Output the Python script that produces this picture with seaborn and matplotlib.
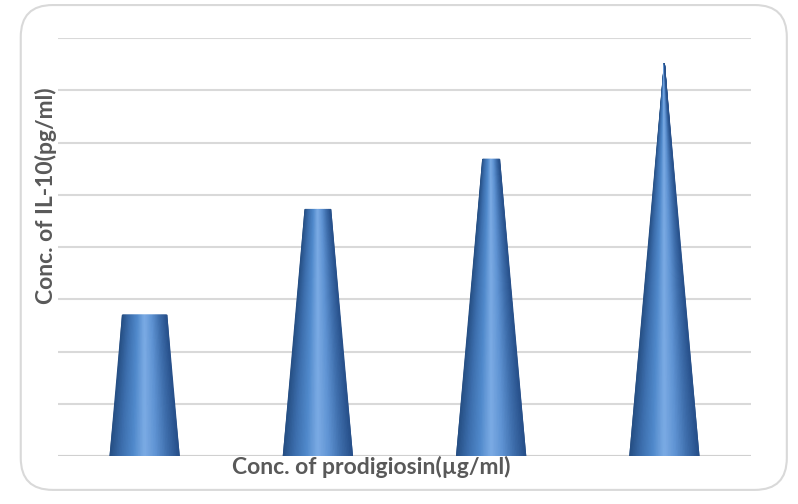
import numpy as np
import pandas as pd
import matplotlib
matplotlib.use("Agg")
import matplotlib.pyplot as plt
from matplotlib.colors import LinearSegmentedColormap
from matplotlib.collections import QuadMesh
from matplotlib.patches import FancyBboxPatch
import seaborn as sns

# data (no tick labels shown, units of one grid step = 10)
doses = ["dose 1", "dose 2", "dose 3", "dose 4"]
il10 = [27.0, 47.2, 56.8, 75.2]

df = pd.DataFrame({"dose": doses, "il10": il10})

sns.set_theme(style="white")
plt.rcParams["font.family"] = ["Lato", "DejaVu Sans"]

fig = plt.figure(figsize=(7.98, 5.04), dpi=100)
ax = fig.add_axes([0.0727, 0.0952, 0.8684, 0.8294])

sns.barplot(data=df, x="dose", y="il10", width=0.4, ax=ax, color="#4a7cbf")
ax.set_ylim(0, 80)
ax.set_yticks(np.arange(0, 81, 10))
ax.yaxis.grid(True, color="#d9d9d9", linewidth=1.5)
ax.set_axisbelow(True)
ax.tick_params(left=False, bottom=False, labelleft=False, labelbottom=False)
for s in ax.spines.values():
    s.set_visible(False)
ax.set_xlabel("")
ax.set_ylabel("")

# turn each bar into a shaded cone that reaches its apex at the largest value
cone_cmap = LinearSegmentedColormap.from_list(
    "cone", ["#264f84", "#3d6fae", "#5089cb", "#7cace5", "#5f93d3", "#3f6fad", "#27508a"])
peak = max(il10)
for p in list(ax.patches):
    p.set_visible(False)
    cx = p.get_x() + p.get_width() / 2
    w = p.get_width()
    h = p.get_height()
    tw = w * (1 - h / peak)
    u = np.linspace(0, 1, 40)
    X = np.vstack([cx - w / 2 + u * w, cx - tw / 2 + u * tw])
    Y = np.vstack([np.zeros_like(u), np.full_like(u, h)])
    coords = np.stack([X, Y], axis=-1)
    mesh = QuadMesh(coords, shading="gouraud", cmap=cone_cmap, transform=ax.transData)
    mesh.set_array(np.vstack([u, u]))
    mesh.set_clim(0, 1)
    mesh.set_zorder(3)
    ax.add_collection(mesh, autolim=False)

ax.set_xlim(-0.5, len(doses) - 0.5)
ax.axhline(0, color="#d0d0d0", linewidth=1.5, zorder=2)

fig.text(0.465, 0.073, "Conc. of prodigiosin(\u00b5g/ml)", ha="center", va="center",
         fontsize=16.5, fontweight="bold", color="#595959")
fig.text(0.057, 0.611, "Conc. of IL-10(pg/ml)", ha="center", va="center", rotation=90,
         fontsize=16.5, fontweight="bold", color="#595959")

frame = FancyBboxPatch((0.026, 0.028), 0.96, 0.962, boxstyle="round,pad=0,rounding_size=0.04",
                       transform=fig.transFigure, facecolor="none", edgecolor="#d9d9d9",
                       linewidth=1.5, mutation_aspect=798 / 504)
fig.patches.append(frame)

fig.savefig("out.png", dpi=100)
